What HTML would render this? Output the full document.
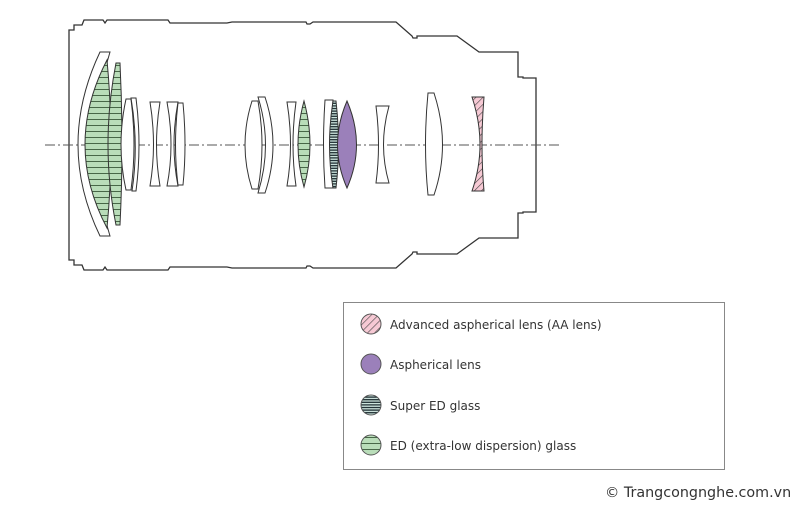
<!DOCTYPE html>
<html><head><meta charset="utf-8"><style>
html,body{margin:0;padding:0;background:#fff;width:800px;height:510px;overflow:hidden}
svg{display:block}
text{font-family:"DejaVu Sans","Liberation Sans",sans-serif;fill:#333}
</style></head><body>
<svg width="800" height="510" viewBox="0 0 800 510" xmlns="http://www.w3.org/2000/svg">
<defs>
<pattern id="ed" width="10" height="6" patternUnits="userSpaceOnUse"><rect width="10" height="6" fill="#b9ddb9"/><line x1="0" y1="5.5" x2="10" y2="5.5" stroke="#3a5a3a" stroke-width="0.9"/></pattern>
<pattern id="sed" width="10" height="2.6" patternUnits="userSpaceOnUse"><rect width="10" height="2.6" fill="#cfe6df"/><line x1="0" y1="1.9" x2="10" y2="1.9" stroke="#1e2e33" stroke-width="1.3"/></pattern>
<pattern id="aa" width="5" height="5" patternUnits="userSpaceOnUse" patternTransform="rotate(45)"><rect width="5" height="5" fill="#f6c9d4"/><line x1="0" y1="0" x2="0" y2="5" stroke="#444" stroke-width="1.2"/></pattern>
</defs>
<g fill="none" stroke="#333" stroke-width="1.3">
<path d="M69,30 L74,30 L74,25 L82,25 L84,20 L103,20 L105,23 L107,20 L168,20 L170,23 L227,23 L232,22 L306,22 L307,24 L310,24 L313,22 L396,22 L412,36 L413,38 L417,38 L417,36 L457,36 L479,52 L518,52 L518,77 L523,77 L523,78 L536,78 L536,212 L523,212 L523,213 L518,213 L518,238 L479,238 L457,254 L417,254 L417,252 L413,252 L412,254 L396,268 L313,268 L310,266 L307,266 L306,268 L232,268 L227,267 L170,267 L168,270 L107,270 L105,267 L103,270 L84,270 L82,265 L74,265 L74,260 L69,260 Z"/>
</g>
<line x1="45" y1="145" x2="560" y2="145" stroke="#555" stroke-width="0.9" stroke-dasharray="10,3,2,3"/>
<g stroke="#333" stroke-width="1" fill="#fff">
<path d="M100,52 L110,52 Q82,145 110,236 L100,236 Q56,145 100,52 Z" fill="none"/>
<path d="M107,60 Q115,145 107,228 Q63,145 107,60 Z" fill="url(#ed)"/>
<path d="M116,63 L120,63 Q124,145 120,225 L116,225 Q100,145 116,63 Z" fill="url(#ed)"/>
<path d="M126,99 L131,99 Q137,145 131,190 L126,190 Q116,145 126,99 Z"/>
<path d="M131,98 L136,98 Q142,145 136,191 L132,191 Q139,145 131,98 Z"/>
<path d="M150,102 L160,102 Q153,145 160,186 L150,186 Q157,145 150,102 Z"/>
<path d="M167,102 L178,102 Q170,145 178,186 L167,186 Q175,145 167,102 Z"/>
<path d="M178,103 L183,103 Q187,145 183,185 L178,185 Q173,145 178,103 Z"/>
<path d="M252,101 L258,101 Q266,145 258,189 L252,189 Q238,145 252,101 Z"/>
<path d="M258,97 L265,97 Q281,145 265,193 L258,193 Q273,145 258,97 Z"/>
<path d="M287,102 L296,102 Q290,145 296,186 L287,186 Q294,145 287,102 Z"/>
<path d="M304,101 Q316,145 304,187 Q292,145 304,101 Z" fill="url(#ed)"/>
<path d="M325,100 L333,100 Q329,145 333,188 L325,188 Q322,145 325,100 Z"/>
<path d="M333,101 L336,101 Q341,145 336,188 L333,188 Q326,145 333,101 Z" fill="url(#sed)"/>
<path d="M347,101 Q366,145 347,188 Q328,145 347,101 Z" fill="#9b80ba"/>
<path d="M376,106 L389,106 Q378,145 389,183 L376,183 Q381,145 376,106 Z"/>
<path d="M428,93 L434,93 Q451,145 434,195 L428,195 Q423,145 428,93 Z"/>
<path d="M472,97 L484,97 Q480,145 484,191 L472,191 Q488,145 472,97 Z" fill="url(#aa)"/>
</g>
<rect x="343.5" y="302.5" width="381" height="167" fill="#fff" stroke="#888" stroke-width="1"/>
<g stroke="#555" stroke-width="1">
<circle cx="371" cy="324" r="10" fill="url(#aa)"/>
<circle cx="371" cy="364" r="10" fill="#9b80ba"/>
<circle cx="371" cy="405" r="10" fill="url(#sed)"/>
<circle cx="371" cy="445" r="10" fill="url(#ed)"/>
</g>
<g font-size="12">
<text x="390" y="329">Advanced aspherical lens (AA lens)</text>
<text x="390" y="369">Aspherical lens</text>
<text x="390" y="410">Super ED glass</text>
<text x="390" y="450">ED (extra-low dispersion) glass</text>
</g>
<text x="605" y="497" font-size="14.3">© Trangcongnghe.com.vn</text>
</svg>
</body></html>
